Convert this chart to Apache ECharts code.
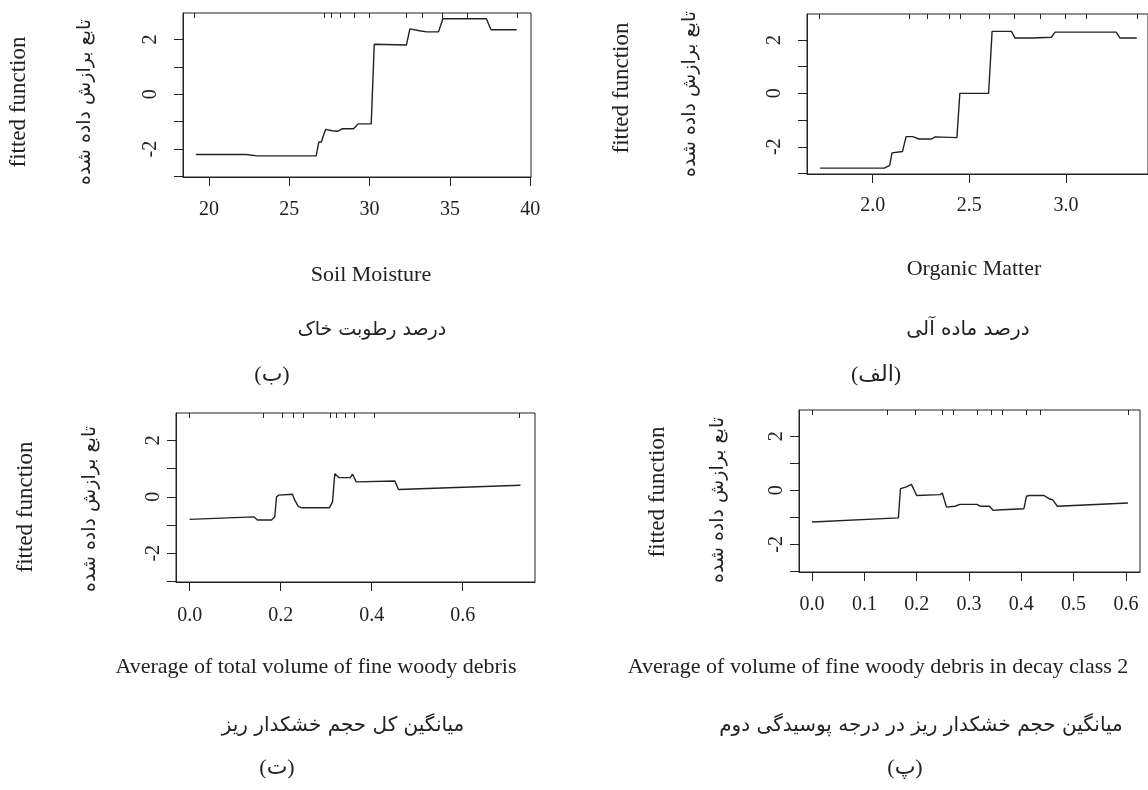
<!DOCTYPE html>
<html>
<head>
<meta charset="utf-8">
<script src="https://cdn.jsdelivr.net/npm/echarts@6/dist/echarts.min.js"></script>
<style>
html, body { margin: 0; padding: 0; background: #fff; }
#chart { width: 1148px; height: 790px; }
</style>
</head>
<body>
<div id="chart"></div>
<script>
// soil moisture (ب)
const smX = [19.18, 22.33, 23.0, 26.67, 26.84, 27.0, 27.1, 27.27, 27.67, 28.0, 28.29, 29.0, 29.29, 30.1, 30.29, 32.29, 32.51, 33.1, 33.56, 34.29, 34.56, 37.27, 37.56, 39.16];
const smY = [-2.2, -2.2, -2.25, -2.25, -1.74, -1.74, -1.55, -1.28, -1.33, -1.35, -1.26, -1.26, -1.08, -1.08, 1.83, 1.8, 2.39, 2.32, 2.28, 2.28, 2.76, 2.76, 2.36, 2.36];
const smRug = [19.1, 27.2, 27.6, 28.2, 29.07, 30.0, 32.3, 33.3, 34.5, 36.1, 39.2];
const smTicks = [20, 25, 30, 35, 40];

// organic matter (الف)
const omX = [1.727, 2.06, 2.088, 2.10, 2.154, 2.173, 2.207, 2.239, 2.305, 2.323, 2.436, 2.451, 2.60, 2.618, 2.718, 2.737, 2.83, 2.925, 2.944, 3.26, 3.28, 3.367];
const omY = [-2.8, -2.8, -2.7, -2.23, -2.18, -1.62, -1.62, -1.71, -1.71, -1.63, -1.66, 0, 0, 2.32, 2.32, 2.07, 2.07, 2.1, 2.29, 2.29, 2.07, 2.07];
const omRug = [1.722, 2.188, 2.282, 2.398, 2.451, 2.605, 2.731, 2.868, 2.996, 3.103, 3.367];
const omTicks = [2.0, 2.5, 3.0];

// total fine woody debris (ت)
const fwX = [0, 0.141, 0.149, 0.18, 0.187, 0.191, 0.196, 0.226, 0.231, 0.239, 0.247, 0.307, 0.314, 0.319, 0.328, 0.353, 0.358, 0.366, 0.451, 0.459, 0.727];
const fwY = [-0.8, -0.71, -0.82, -0.82, -0.71, 0, 0.06, 0.09, -0.12, -0.35, -0.39, -0.39, -0.18, 0.82, 0.68, 0.68, 0.8, 0.53, 0.56, 0.26, 0.41];
const fwRug = [0, 0.161, 0.204, 0.227, 0.249, 0.31, 0.322, 0.341, 0.361, 0.406, 0.725];
const fwTicks = [0, 0.2, 0.4, 0.6];

// fine woody debris, decay class 2 (پ)
const dcX = [0, 0.165, 0.169, 0.179, 0.19, 0.193, 0.2, 0.245, 0.249, 0.257, 0.273, 0.283, 0.315, 0.322, 0.339, 0.346, 0.363, 0.405, 0.41, 0.415, 0.443, 0.453, 0.46, 0.469, 0.604];
const dcY = [-1.17, -1.02, 0.06, 0.12, 0.22, 0.19, -0.19, -0.16, -0.1, -0.62, -0.59, -0.52, -0.52, -0.59, -0.59, -0.74, -0.72, -0.68, -0.22, -0.19, -0.19, -0.31, -0.35, -0.59, -0.47];
const dcRug = [0, 0.144, 0.197, 0.249, 0.269, 0.315, 0.342, 0.363, 0.41, 0.436, 0.604];
const dcTicks = [0, 0.1, 0.2, 0.3, 0.4, 0.5, 0.6];

const yTicks = [-3, -2, -1, 0, 1, 2];
const yLabels = [-2, 0, 2];

const serif = "'Liberation Serif', 'Times New Roman', serif";
const fa = "'DejaVu Sans', sans-serif";
const ink = '#222';

const panels = [
  { x: smX, y: smY, rug: smRug, ticks: smTicks, min: 18.38, max: 40.05, dec: 0,
    grid: { left: 183, top: 13, width: 348, height: 164 }, yMargin: 22, xMargin: 23 },
  { x: omX, y: omY, rug: omRug, ticks: omTicks, min: 1.66, max: 3.425, dec: 1,
    grid: { left: 807, top: 14, width: 341, height: 160 }, yMargin: 22, xMargin: 22 },
  { x: fwX, y: fwY, rug: fwRug, ticks: fwTicks, min: -0.03, max: 0.759, dec: 1,
    grid: { left: 176, top: 413, width: 359, height: 169 }, yMargin: 12, xMargin: 24 },
  { x: dcX, y: dcY, rug: dcRug, ticks: dcTicks, min: -0.025, max: 0.627, dec: 1,
    grid: { left: 799, top: 410, width: 341, height: 162 }, yMargin: 12, xMargin: 23 }
];

const grids = [], xAxes = [], yAxes = [], series = [];
panels.forEach((p, i) => {
  grids.push(Object.assign({ show: true, borderColor: ink, borderWidth: 1, backgroundColor: 'transparent' }, p.grid));
  // bottom axis
  xAxes.push({
    type: 'value', gridIndex: i, position: 'bottom', min: p.min, max: p.max,
    axisLine: { show: true, onZero: false, lineStyle: { color: ink, width: 1 } },
    axisTick: { show: true, length: 9, customValues: p.ticks, lineStyle: { color: ink } },
    axisLabel: { show: true, customValues: p.ticks, margin: p.xMargin, color: ink,
      fontFamily: serif, fontSize: 20, formatter: v => v.toFixed(p.dec) },
    splitLine: { show: false }
  });
  // rug along the top edge
  xAxes.push({
    type: 'value', gridIndex: i, position: 'top', min: p.min, max: p.max,
    axisLine: { show: false, onZero: false },
    axisTick: { show: true, inside: true, length: 5, customValues: p.rug, lineStyle: { color: ink } },
    axisLabel: { show: false },
    splitLine: { show: false }
  });
  yAxes.push({
    type: 'value', gridIndex: i, min: -3.02, max: 2.97,
    axisLine: { show: true, onZero: false, lineStyle: { color: ink, width: 1 } },
    axisTick: { show: true, length: 9, customValues: yTicks, lineStyle: { color: ink } },
    axisLabel: { show: true, customValues: yLabels, rotate: 90, margin: p.yMargin, color: ink,
      fontFamily: serif, fontSize: 20, formatter: v => String(v) },
    splitLine: { show: false }
  });
  series.push({
    type: 'line', xAxisIndex: i * 2, yAxisIndex: i,
    data: p.x.map((v, k) => [v, p.y[k]]),
    showSymbol: false, symbol: 'none',
    lineStyle: { color: ink, width: 1.4 },
    animation: false
  });
});

function txt(x, y, text, size, family, rot) {
  return { type: 'text', x: x, y: y, rotation: rot ? Math.PI / 2 : 0,
    style: { text: text, fontSize: size, fontFamily: family, fill: ink, align: 'center', verticalAlign: 'middle' } };
}

const yTitle = 'fitted function';
const yTitleFa = 'تابع برازش داده شده';
const paren = serif + ", 'DejaVu Sans'";

const texts = [
  txt(19, 102, yTitle, 23, serif, true),
  txt(85, 102, yTitleFa, 19, fa, true),
  txt(371, 275, 'Soil Moisture', 22, serif),
  txt(372, 330, 'درصد رطوبت خاک', 19, fa),
  txt(272, 375, '(ب)', 22, paren),

  txt(622, 88, yTitle, 23, serif, true),
  txt(690, 94, yTitleFa, 19, fa, true),
  txt(974, 269, 'Organic Matter', 22, serif),
  txt(968, 330, 'درصد ماده آلی', 20, fa),
  txt(876, 375, '(الف)', 22, paren),

  txt(26, 507, yTitle, 23, serif, true),
  txt(90, 509, yTitleFa, 19, fa, true),
  txt(316, 667, 'Average of total volume of fine woody debris', 22, serif),
  txt(343, 726, 'میانگین کل حجم خشکدار ریز', 20, fa),
  txt(277, 768, '(ت)', 22, paren),

  txt(658, 492, yTitle, 23, serif, true),
  txt(718, 500, yTitleFa, 19, fa, true),
  txt(878, 667, 'Average of volume of fine woody debris in decay class 2', 22, serif),
  txt(921, 726, 'میانگین حجم خشکدار ریز در درجه پوسیدگی دوم', 20, fa),
  txt(905, 768, '(پ)', 22, paren)
];

const chart = echarts.init(document.getElementById('chart'));
chart.setOption({
  animation: false,
  backgroundColor: '#fff',
  grid: grids,
  xAxis: xAxes,
  yAxis: yAxes,
  series: series,
  graphic: texts
});
</script>
</body>
</html>
